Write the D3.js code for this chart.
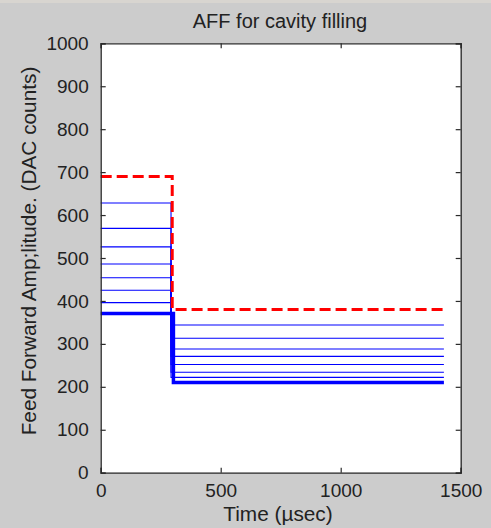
<!DOCTYPE html>
<html>
<head>
<meta charset="utf-8">
<script src="https://cdn.jsdelivr.net/npm/d3@7"></script>
<style>
html,body{margin:0;padding:0;background:#cccccc;}
svg{display:block;}
text{font-family:"Liberation Sans",Arial,sans-serif;fill:#222;}
</style>
</head>
<body>
<script>
// ---- data ----
const title = "AFF for cavity filling";
const xLabel = "Time (\u00b5sec)";
const yLabel = "Feed Forward Amp;litude. (DAC counts)";
const xTicks = [0, 500, 1000, 1500];
const yTicks = [0, 100, 200, 300, 400, 500, 600, 700, 800, 900, 1000];
const tEnd = 1430;
// blue series: level before the step, level after the step, step time
const blueBefore = [628, 569, 526, 486, 454, 425, 396, 371];
const blueAfter  = [344, 313, 288, 271, 252, 234, 222, 210];
const blueStep   = [293, 293, 293, 293, 293, 293, 293, 303];
const blueWide   = [false, false, false, false, false, false, false, true];
// red dashed reference
const redBefore = 690, redAfter = 380, redStep = 298;

const W = 491, H = 528;
const m = {left: 100.7, right: 460.7, top: 43.3, bottom: 472.7};

const svg = d3.select("body").append("svg").attr("width", W).attr("height", H);
svg.append("rect").attr("width", W).attr("height", H).attr("fill", "#cccccc");
svg.append("rect").attr("width", W).attr("height", 3).attr("fill", "#d8d5d0");

const x = d3.scaleLinear().domain([0, 1500]).range([m.left, m.right]);
const y = d3.scaleLinear().domain([0, 1000]).range([m.bottom, m.top]);

svg.append("rect").attr("x", m.left).attr("y", m.top)
  .attr("width", m.right - m.left).attr("height", m.bottom - m.top).attr("fill", "#ffffff");

const line = d3.line().x(d => x(d[0])).y(d => y(d[1]));
const g = svg.append("g");

blueBefore.forEach((b, i) => {
  const pts = [[0, b], [blueStep[i], b], [blueStep[i], blueAfter[i]], [tEnd, blueAfter[i]]];
  g.append("path").attr("d", line(pts)).attr("fill", "none")
    .attr("stroke", "#0000ff").attr("stroke-width", blueWide[i] ? 3.5 : 1.1);
});
g.append("path")
  .attr("d", line([[0, redBefore], [redStep, redBefore], [redStep, redAfter], [tEnd, redAfter]]))
  .attr("fill", "none").attr("stroke", "#ff0000").attr("stroke-width", 3)
  .attr("stroke-dasharray", "11,5");

// axes (box with inward ticks)
const axisColor = "#2a2a2a";
const fs = 19;
const xb = svg.append("g").attr("transform", `translate(0,${m.bottom})`)
  .call(d3.axisBottom(x).tickValues(xTicks).tickSize(-5).tickPadding(11).tickFormat(d3.format("d")));
const xt = svg.append("g").attr("transform", `translate(0,${m.top})`)
  .call(d3.axisTop(x).tickValues(xTicks).tickSize(-5).tickFormat(""));
const yl = svg.append("g").attr("transform", `translate(${m.left},0)`)
  .call(d3.axisLeft(y).tickValues(yTicks).tickSize(-5).tickPadding(12).tickFormat(d3.format("d")));
const yr = svg.append("g").attr("transform", `translate(${m.right},0)`)
  .call(d3.axisRight(y).tickValues(yTicks).tickSize(-5).tickFormat(""));
[xb, xt, yl, yr].forEach(a => {
  a.selectAll(".domain").attr("stroke", axisColor).attr("stroke-width", 1.3);
  a.selectAll(".tick line").attr("stroke", axisColor).attr("stroke-width", 1.2);
  a.selectAll("text").attr("font-size", fs).attr("font-family", "Liberation Sans, Arial, sans-serif").attr("fill", "#222");
});
xb.selectAll(".tick text").attr("dy", "0.71em");

svg.append("text").attr("x", 280).attr("y", 28).attr("text-anchor", "middle")
  .attr("font-size", 20).text(title);
svg.append("text").attr("x", 278).attr("y", 521).attr("text-anchor", "middle")
  .attr("font-size", 20.8).text(xLabel);
svg.append("text").attr("transform", "translate(36,251) rotate(-90)").attr("text-anchor", "middle")
  .attr("font-size", 20.8).text(yLabel);
</script>
</body>
</html>
